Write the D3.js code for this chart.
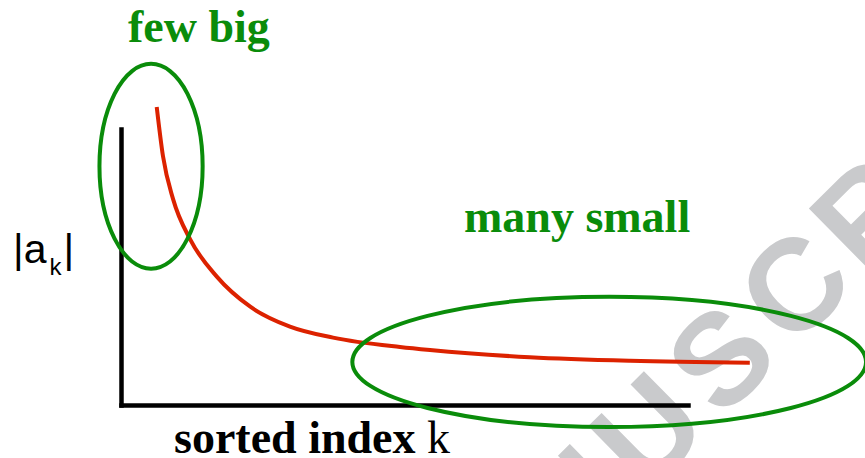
<!DOCTYPE html>
<html>
<head>
<meta charset="utf-8">
<script src="https://cdn.jsdelivr.net/npm/d3@7"></script>
<style>
  html, body { margin: 0; padding: 0; background: #fff; }
  svg { display: block; }
</style>
</head>
<body>
<div id="chart"></div>
<script>
// sorted index k (arbitrary units) and |a_k|
const kIndex = [6.3, 7.4, 9.2, 12.2, 16.9, 22.8, 29.8, 37.4, 49.2, 54.5, 72.1, 89.8, 110.9];
const akValue = [108, 90.2, 74.5, 60, 46.5, 35.6, 28.4, 24.4, 21.0, 19.9, 17.3, 16.0, 15.3];

// annotation ellipses, in data units: [cx, cy, rx, ry]
const fewBig = [5.3, 86.5, 9.1, 37.1];
const manySmall = [86.1, 15.6, 45.3, 23.6];

const labels = ["few big", "many small"];
const watermark = "ACCEPTED MANUSCRIPT";

const width = 865, height = 458;
const green = "#0a8c0a", red = "#dc2200", grey = "#c9cacc";

const svg = d3.select("#chart").append("svg")
  .attr("width", width)
  .attr("height", height);

const x = d3.scaleLinear().domain([0, 100]).range([121, 688]);
const y = d3.scaleLinear().domain([0, 100]).range([405, 129]);

// watermark, behind everything; only the letters that reach the frame
const wmAngle = -44.6, step = 103;
const ux = 646, uy = 429; // centre of the "U"
const uPos = watermark.indexOf("U");
const dir = [Math.cos(wmAngle * Math.PI / 180), Math.sin(wmAngle * Math.PI / 180)];
const wmLetters = watermark.split("")
  .map((c, i) => {
    const off = (i - uPos) * step;
    return {c, px: ux + dir[0] * off, py: uy + dir[1] * off};
  })
  .filter(d => d.c !== " " && d.px < width + 50 && d.py < height + 50);

svg.append("g").selectAll("text")
  .data(wmLetters)
  .join("text")
  .attr("transform", d => `translate(${d.px},${d.py}) rotate(${wmAngle})`)
  .attr("text-anchor", "middle")
  .attr("dy", "0.36em")
  .style("font-family", "'Liberation Sans', Arial, sans-serif")
  .style("font-weight", "bold")
  .style("font-size", "130px")
  .attr("fill", grey)
  .text(d => d.c);

// axes without ticks
const xAxis = svg.append("g")
  .attr("transform", `translate(0,${y(0)})`)
  .call(d3.axisBottom(x).tickValues([]).tickSizeOuter(0));
const yAxis = svg.append("g")
  .attr("transform", `translate(${x(0)},0)`)
  .call(d3.axisLeft(y).tickValues([]).tickSizeOuter(0));
[xAxis, yAxis].forEach(a => a.select(".domain")
  .attr("stroke", "#000")
  .attr("stroke-width", 4.5)
  .attr("stroke-linecap", "square"));

// decaying curve
const line = d3.line()
  .x((d, i) => x(kIndex[i]))
  .y(d => y(d))
  .curve(d3.curveMonotoneX);

svg.append("path")
  .datum(akValue)
  .attr("d", line)
  .attr("fill", "none")
  .attr("stroke", red)
  .attr("stroke-width", 4);

// ellipses
svg.selectAll("ellipse")
  .data([fewBig, manySmall])
  .join("ellipse")
  .attr("cx", d => x(d[0]))
  .attr("cy", d => y(d[1]))
  .attr("rx", d => x(d[2]) - x(0))
  .attr("ry", d => y(0) - y(d[3]))
  .attr("fill", "none")
  .attr("stroke", green)
  .attr("stroke-width", 4);

// green labels
svg.selectAll("text.lab")
  .data(labels)
  .join("text")
  .attr("class", "lab")
  .attr("x", (d, i) => i === 0 ? 128 : 464)
  .attr("y", (d, i) => i === 0 ? 42 : 232)
  .attr("font-family", "Liberation Serif, Times New Roman, serif")
  .attr("font-weight", "bold")
  .attr("font-size", 46)
  .attr("fill", green)
  .text(d => d);

// x label
const xl = svg.append("text")
  .attr("x", 174)
  .attr("y", 453)
  .attr("font-family", "Liberation Serif, Times New Roman, serif")
  .attr("font-size", 46)
  .attr("fill", "#000");
xl.append("tspan").attr("font-weight", "bold").text("sorted index ");
xl.append("tspan").text("k");

// y label |a_k|
const yl = svg.append("text")
  .attr("x", 13)
  .attr("y", 263)
  .attr("font-family", "Liberation Sans, Arial, sans-serif")
  .attr("font-size", 41)
  .attr("fill", "#000");
yl.append("tspan").text("|a");
yl.append("tspan").attr("font-size", 24).attr("dx", 3).attr("dy", 12).text("k");
yl.append("tspan").attr("dx", 2).attr("dy", -12).text("|");
</script>
</body>
</html>
